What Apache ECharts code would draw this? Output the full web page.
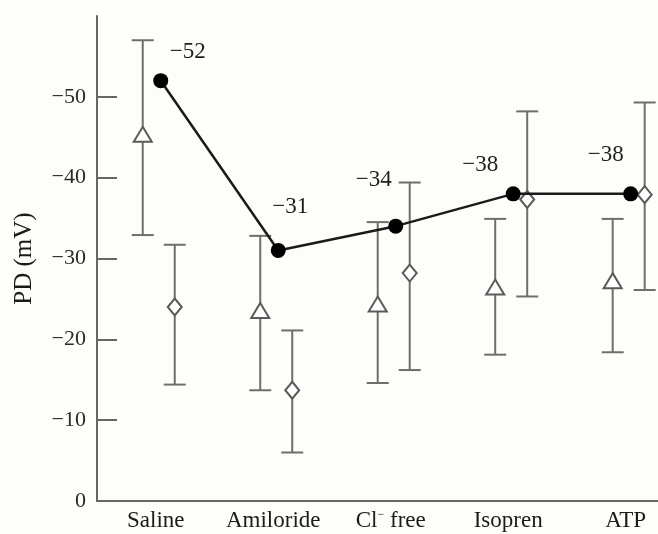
<!DOCTYPE html>
<html>
<head>
<meta charset="utf-8">
<script src="https://cdn.jsdelivr.net/npm/echarts@6/dist/echarts.min.js"></script>
<style>
  html, body { margin: 0; padding: 0; background: #fdfdfa; }
  #chart { width: 658px; height: 534px; }
</style>
</head>
<body>
<div id="chart"></div>
<script>
// Conditions on the x axis
var categories = ['Saline', 'Amiloride', 'Cl- free', 'Isopren', 'ATP'];

// Filled circles joined by a line (values stated by the labels)
var pdCircle = [-52, -31, -34, -38, -38];
var pdCircleLabels = ['\u221252', '\u221231', '\u221234', '\u221238', '\u221238'];

// Open triangles: mean with lower / upper error bar ends
var triMean = [-45.3, -23.5, -24.3, -26.4, -27.2];
var triHigh = [-57.0, -32.8, -34.5, -34.9, -34.9];
var triLow  = [-32.9, -13.7, -14.6, -18.1, -18.4];

// Open diamonds: mean with lower / upper error bar ends
var diaMean = [-24.0, -13.7, -28.2, -37.3, -37.9];
var diaHigh = [-31.7, -21.1, -39.4, -48.2, -49.3];
var diaLow  = [-14.4, -6.0, -16.2, -25.3, -26.1];

// Y axis ticks and labels
var yTicks = [-50, -40, -30, -20, -10];
var yLabels = [-50, -40, -30, -20, -10, 0];

// Each condition sits at the middle of a unit-wide slot on the x scale
var slotCenters = categories.map(function (c, i) { return i + 0.5; });
var X_MAX = 4.775;

// Layout: pixel offsets of each group within a slot and of the value labels
var TRI_DX = -13, CIRCLE_DX = 5, DIA_DX = 19;
var labelOffsets = [[27, -29], [12, -43], [-22, -46], [-33, -29], [-25, -39]];

var FONT = "'Liberation Serif', 'DejaVu Serif', serif";
var BAR_COLOR = '#6e6e6e';
var CAP = 11;

function errorBarItem(dx, shape, mean, low, high) {
  return function (params, api) {
    var i = params.dataIndex;
    var xc = slotCenters[i];
    var pm = api.coord([xc, mean[i]]);
    var pl = api.coord([xc, low[i]]);
    var ph = api.coord([xc, high[i]]);
    var x = pm[0] + dx;
    var style = { stroke: BAR_COLOR, lineWidth: 2, fill: null };
    var children = [
      { type: 'line', shape: { x1: x, y1: pl[1], x2: x, y2: ph[1] }, style: style },
      { type: 'line', shape: { x1: x - CAP, y1: pl[1], x2: x + CAP, y2: pl[1] }, style: style },
      { type: 'line', shape: { x1: x - CAP, y1: ph[1], x2: x + CAP, y2: ph[1] }, style: style }
    ];
    var y = pm[1];
    var pts;
    if (shape === 'triangle') {
      pts = [[x, y - 8], [x + 9, y + 7], [x - 9, y + 7]];
    } else {
      pts = [[x, y - 8.5], [x + 7, y], [x, y + 8.5], [x - 7, y]];
    }
    children.push({
      type: 'polygon',
      shape: { points: pts },
      style: { fill: '#ffffff', stroke: '#5a5a5a', lineWidth: 2 },
      z2: 5
    });
    return { type: 'group', children: children };
  };
}

function circleItem(params, api) {
  var i = params.dataIndex;
  var p = api.coord([slotCenters[i], pdCircle[i]]);
  var x = p[0] + CIRCLE_DX, y = p[1];
  var children = [];
  if (i > 0) {
    var q = api.coord([slotCenters[i - 1], pdCircle[i - 1]]);
    children.push({
      type: 'line',
      shape: { x1: q[0] + CIRCLE_DX, y1: q[1], x2: x, y2: y },
      style: { stroke: '#1a1a1a', lineWidth: 2.5 },
      z2: 10
    });
  }
  children.push({
    type: 'circle',
    shape: { cx: x, cy: y, r: 7.5 },
    style: { fill: '#000000' },
    z2: 20
  });
  children.push({
    type: 'text',
    x: x + labelOffsets[i][0],
    y: y + labelOffsets[i][1],
    style: {
      text: pdCircleLabels[i],
      font: '23px ' + FONT,
      fill: '#1e1e1e',
      align: 'center',
      verticalAlign: 'middle'
    },
    z2: 20
  });
  return { type: 'group', children: children };
}

var chart = echarts.init(document.getElementById('chart'), null, { renderer: 'canvas' });

chart.setOption({
  backgroundColor: '#fdfdfa',
  animation: false,
  grid: { left: 97, right: 0, top: 16, bottom: 33, containLabel: false },
  xAxis: {
    type: 'value',
    min: 0,
    max: X_MAX,
    axisLine: { onZero: false, lineStyle: { color: '#666666', width: 2 } },
    axisTick: { show: false },
    splitLine: { show: false },
    axisLabel: {
      margin: 8,
      customValues: slotCenters,
      formatter: function (v) {
        var name = categories[Math.round(v - 0.5)];
        if (name === 'Cl- free') return '{n|Cl}{sup|\u2212}{n| free}';
        return '{n|' + name + '}';
      },
      rich: {
        n: { fontFamily: FONT, fontSize: 23, color: '#1a1a1a' },
        sup: { fontFamily: FONT, fontSize: 12, color: '#1a1a1a', verticalAlign: 'top', padding: [0, 0, 12, 0] }
      }
    }
  },
  yAxis: {
    type: 'value',
    min: -60,
    max: 0,
    inverse: true,
    name: 'PD (mV)',
    nameLocation: 'middle',
    nameRotate: 90,
    nameGap: 60,
    nameTextStyle: { fontFamily: FONT, fontSize: 25, color: '#1a1a1a' },
    axisLine: { show: true, onZero: false, lineStyle: { color: '#666666', width: 2 } },
    axisTick: {
      show: true,
      inside: true,
      length: 20,
      customValues: yTicks,
      lineStyle: { color: '#666666', width: 2 }
    },
    axisLabel: {
      margin: 11,
      fontFamily: FONT,
      fontSize: 22,
      color: '#2a2a2a',
      customValues: yLabels,
      formatter: function (v) {
        return v === 0 ? '0' : '\u2212' + Math.abs(v);
      }
    },
    splitLine: { show: false }
  },
  series: [
    {
      type: 'custom',
      name: 'triangles',
      renderItem: errorBarItem(TRI_DX, 'triangle', triMean, triLow, triHigh),
      data: triMean.map(function (v, i) { return [slotCenters[i], v]; }),
      clip: false,
      z: 2
    },
    {
      type: 'custom',
      name: 'diamonds',
      renderItem: errorBarItem(DIA_DX, 'diamond', diaMean, diaLow, diaHigh),
      data: diaMean.map(function (v, i) { return [slotCenters[i], v]; }),
      clip: false,
      z: 2
    },
    {
      type: 'custom',
      name: 'circles',
      renderItem: circleItem,
      data: pdCircle.map(function (v, i) { return [slotCenters[i], v]; }),
      clip: false,
      z: 5
    }
  ]
});
</script>
</body>
</html>
